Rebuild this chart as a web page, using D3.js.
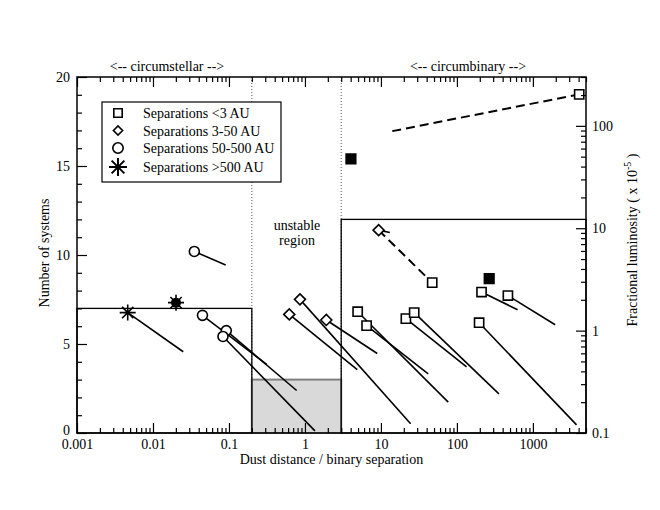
<!DOCTYPE html>
<html>
<head>
<meta charset="utf-8">
<script src="https://cdn.jsdelivr.net/npm/d3@7"></script>
<style>
  body { margin: 0; background: #fff; }
  svg { font-family: "Liberation Serif", "DejaVu Serif", serif; }
</style>
</head>
<body>
<div id="chart"></div>
<script>
// histogram of systems (left axis)
var binEdges = [0.001, 0.2, 3, 5000];
var binCounts = [7, 3, 12];

// open squares: separations < 3 AU (x = dust distance / separation, L = fractional luminosity)
var sqX = [4.94, 6.48, 21.3, 27.4, 47.3, 211, 469, 196, 4070];
var sqL = [1.53, 1.12, 1.31, 1.50, 2.94, 2.38, 2.20, 1.195, 203];
var sqEndX = [76.9, 41.9, 134, 357, null, 629, 1965, 3758, null];
var sqEndL = [0.20, 0.378, 0.443, 0.241, null, 1.60, 1.14, 0.12, null];

// filled squares
var fsqX = [4.03, 266];
var fsqL = [47.5, 3.22];

// diamonds: separations 3-50 AU
var dmX = [0.86, 0.622, 1.91, 9.33];
var dmL = [2.02, 1.44, 1.27, 9.58];
var dmEndX = [24.6, 4.88, 8.94, 13.1];
var dmEndL = [0.123, 0.417, 0.598, 9.1];

// circles: separations 50-500 AU
var ciX = [0.035, 0.0448, 0.0922, 0.0834];
var ciL = [5.93, 1.41, 1.0, 0.877];
var ciEndX = [0.0905, 0.313, 0.778, 1.354];
var ciEndL = [4.38, 0.467, 0.26, 0.105];

// stars: separations > 500 AU
var stX = [0.00465];
var stL = [1.50];
var stEndX = [0.025];
var stEndL = [0.622];
var fstX = [0.0201];
var fstL = [1.876];

// dashed connections
var dashX0 = [9.33, 14.1];
var dashL0 = [9.58, 88.8];
var dashX1 = [47.3, 4070];
var dashL1 = [2.94, 203];

// axis ticks
var xMajor = [0.001, 0.01, 0.1, 1, 10, 100, 1000];
var xLabels = ["0.001", "0.01", "0.1", "1", "10", "100", "1000"];
var nMajor = [0, 5, 10, 15, 20];
var lMajor = [0.1, 1, 10, 100];
var lLabels = ["0.1", "1", "10", "100"];

var legendLabels = ["Separations <3 AU", "Separations 3-50 AU", "Separations 50-500 AU", "Separations >500 AU"];

//define chart area
var svgWidth = 660;
var svgHeight = 510;
var margin = { top: 77, right: 74, bottom: 77, left: 77 };
var width = svgWidth - margin.left - margin.right;
var height = svgHeight - margin.top - margin.bottom;

var svg = d3.select("#chart").append("svg")
    .attr("width", svgWidth)
    .attr("height", svgHeight);

var chartGroup = svg.append("g")
    .attr("transform", `translate(${margin.left}, ${margin.top})`);

var x = d3.scaleLog().domain([0.001, 5000]).range([0, width]);
var yN = d3.scaleLinear().domain([0, 20]).range([height, 0]);
var yL = d3.scaleLog().domain([0.1, 300]).range([height, 0]);

// marker shapes
function squarePath(s) { return `M${-s},${-s}H${s}V${s}H${-s}Z`; }
function diamondPath(s) { return `M${-s},0L0,${-s}L${s},0L0,${s}Z`; }
function starPath(r) {
  var a = r * 0.7071;
  return `M${-r},0H${r}M0,${-r}V${r}M${-a},${-a}L${a},${a}M${-a},${a}L${a},${-a}`;
}

// dotted region dividers
[0.2, 3].forEach(function(v) {
  chartGroup.append("line")
      .attr("x1", x(v)).attr("x2", x(v))
      .attr("y1", 0).attr("y2", height)
      .attr("stroke", "#555")
      .attr("stroke-width", 1)
      .attr("stroke-dasharray", "1,2");
});

// histogram
chartGroup.append("rect")
    .attr("x", x(binEdges[1]))
    .attr("y", yN(binCounts[1]))
    .attr("width", x(binEdges[2]) - x(binEdges[1]))
    .attr("height", height - yN(binCounts[1]))
    .attr("fill", "#d9d9d9")
    .attr("stroke", "#808080")
    .attr("stroke-width", 2);
[0, 2].forEach(function(i) {
  chartGroup.append("rect")
      .attr("x", x(binEdges[i]))
      .attr("y", yN(binCounts[i]))
      .attr("width", x(binEdges[i + 1]) - x(binEdges[i]))
      .attr("height", height - yN(binCounts[i]))
      .attr("fill", "none")
      .attr("stroke", "#000")
      .attr("stroke-width", 1.3);
});

// solid lines from each marker
function drawLines(xs, ls, xe, le) {
  xs.forEach(function(d, i) {
    if (xe[i] == null) return;
    chartGroup.append("line")
        .attr("x1", x(d)).attr("y1", yL(ls[i]))
        .attr("x2", x(xe[i])).attr("y2", yL(le[i]))
        .attr("stroke", "#000")
        .attr("stroke-width", 1.6);
  });
}
drawLines(sqX, sqL, sqEndX, sqEndL);
drawLines(dmX, dmL, dmEndX, dmEndL);
drawLines(ciX, ciL, ciEndX, ciEndL);
drawLines(stX, stL, stEndX, stEndL);

// dashed lines
dashX0.forEach(function(d, i) {
  chartGroup.append("line")
      .attr("x1", x(d)).attr("y1", yL(dashL0[i]))
      .attr("x2", x(dashX1[i])).attr("y2", yL(dashL1[i]))
      .attr("stroke", "#000")
      .attr("stroke-width", 2)
      .attr("stroke-dasharray", "9,5");
});

// markers
function drawMarkers(xs, ls, path, fill) {
  chartGroup.selectAll(null)
      .data(xs)
      .enter()
      .append("path")
      .attr("transform", (d, i) => `translate(${x(d)},${yL(ls[i])})`)
      .attr("d", path)
      .attr("fill", fill)
      .attr("stroke", "#000")
      .attr("stroke-width", 1.6);
}
drawMarkers(sqX, sqL, squarePath(4.6), "#fff");
drawMarkers(fsqX, fsqL, squarePath(4.8), "#000");
drawMarkers(dmX, dmL, diamondPath(5.5), "#fff");

chartGroup.selectAll(null)
    .data(ciX)
    .enter()
    .append("circle")
    .attr("cx", d => x(d))
    .attr("cy", (d, i) => yL(ciL[i]))
    .attr("r", 5)
    .attr("fill", "#fff")
    .attr("stroke", "#000")
    .attr("stroke-width", 1.6);

chartGroup.selectAll(null)
    .data(fstX)
    .enter()
    .append("circle")
    .attr("cx", d => x(d))
    .attr("cy", (d, i) => yL(fstL[i]))
    .attr("r", 5)
    .attr("fill", "#000");
drawMarkers(fstX, fstL, starPath(8), "none");
drawMarkers(stX, stL, starPath(8), "none");

// axes: ticks point inward
function styleAxis(g) {
  g.select(".domain").remove();
  g.attr("font-size", 14).attr("font-family", "Liberation Serif, serif");
  g.selectAll("line").attr("stroke-width", 1.2);
  g.selectAll("text").attr("fill", "#000");
}

var xMinor = x.ticks().filter(d => xMajor.indexOf(d) < 0);
var nMinor = d3.range(0, 21).filter(d => nMajor.indexOf(d) < 0);
var lMinor = yL.ticks().filter(d => lMajor.indexOf(d) < 0);

chartGroup.append("g")
    .attr("transform", `translate(0, ${height})`)
    .call(d3.axisBottom(x).tickValues(xMinor).tickSize(-5).tickFormat(""))
    .call(styleAxis);
chartGroup.append("g")
    .attr("transform", `translate(0, ${height})`)
    .call(d3.axisBottom(x).tickValues(xMajor).tickSize(-10).tickPadding(6)
      .tickFormat((d, i) => xLabels[i]))
    .call(styleAxis);

chartGroup.append("g")
    .call(d3.axisTop(x).tickValues(xMinor).tickSize(-5).tickFormat(""))
    .call(styleAxis);
chartGroup.append("g")
    .call(d3.axisTop(x).tickValues(xMajor).tickSize(-10).tickFormat(""))
    .call(styleAxis);

chartGroup.append("g")
    .call(d3.axisLeft(yN).tickValues(nMinor).tickSize(-5).tickFormat(""))
    .call(styleAxis);
chartGroup.append("g")
    .call(d3.axisLeft(yN).tickValues(nMajor).tickSize(-10).tickPadding(7))
    .call(styleAxis)
    .call(g => g.selectAll("text").filter(d => d == 0).attr("dy", "0.1em"));

chartGroup.append("g")
    .attr("transform", `translate(${width}, 0)`)
    .call(d3.axisRight(yL).tickValues(lMinor).tickSize(-5).tickFormat(""))
    .call(styleAxis);
chartGroup.append("g")
    .attr("transform", `translate(${width}, 0)`)
    .call(d3.axisRight(yL).tickValues(lMajor).tickSize(-10).tickPadding(6)
      .tickFormat((d, i) => lLabels[i]))
    .call(styleAxis);

// frame
chartGroup.append("rect")
    .attr("width", width)
    .attr("height", height)
    .attr("fill", "none")
    .attr("stroke", "#000")
    .attr("stroke-width", 1.5);

// legend
var legend = chartGroup.append("g").attr("transform", "translate(25, 25)");
legend.append("rect")
    .attr("width", 179)
    .attr("height", 80)
    .attr("fill", "#fff")
    .attr("stroke", "#000")
    .attr("stroke-width", 1.2);
var legendY = [11, 28.5, 46, 65];
var legendShapes = [squarePath(4.2), diamondPath(4.6), null, starPath(9)];
legendLabels.forEach(function(t, i) {
  if (i == 2) {
    legend.append("circle")
        .attr("cx", 16).attr("cy", legendY[i]).attr("r", 5.2)
        .attr("fill", "#fff").attr("stroke", "#000").attr("stroke-width", 1.6);
  } else {
    legend.append("path")
        .attr("transform", `translate(16, ${legendY[i]})`)
        .attr("d", legendShapes[i])
        .attr("fill", i == 3 ? "none" : "#fff")
        .attr("stroke", "#000")
        .attr("stroke-width", i == 3 ? 2 : 1.6);
  }
  legend.append("text")
      .attr("x", 41)
      .attr("y", legendY[i] + 5)
      .attr("font-size", 14)
      .text(t);
});

// region labels
svg.append("text")
    .attr("x", 167).attr("y", 71)
    .attr("text-anchor", "middle")
    .attr("font-size", 14)
    .text("<-- circumstellar -->");
svg.append("text")
    .attr("x", 468).attr("y", 71)
    .attr("text-anchor", "middle")
    .attr("font-size", 14)
    .text("<-- circumbinary -->");
svg.append("text")
    .attr("x", 297).attr("y", 230)
    .attr("text-anchor", "middle")
    .attr("font-size", 14)
    .text("unstable");
svg.append("text")
    .attr("x", 297).attr("y", 245)
    .attr("text-anchor", "middle")
    .attr("font-size", 14)
    .text("region");

// axes titles
svg.append("text")
    .attr("transform", "translate(331.5, 464)")
    .attr("text-anchor", "middle")
    .attr("font-size", 14)
    .text("Dust distance / binary separation");
svg.append("text")
    .attr("transform", "translate(49, 253) rotate(-90)")
    .attr("text-anchor", "middle")
    .attr("font-size", 14)
    .text("Number of systems");
var rTitle = svg.append("text")
    .attr("transform", "translate(637, 240) rotate(-90)")
    .attr("text-anchor", "middle")
    .attr("font-size", 14);
rTitle.append("tspan").text("Fractional luminosity ( x 10");
rTitle.append("tspan").attr("font-size", 10).attr("dy", -6).text("-5");
rTitle.append("tspan").attr("dy", 6).text(" )");
</script>
</body>
</html>
